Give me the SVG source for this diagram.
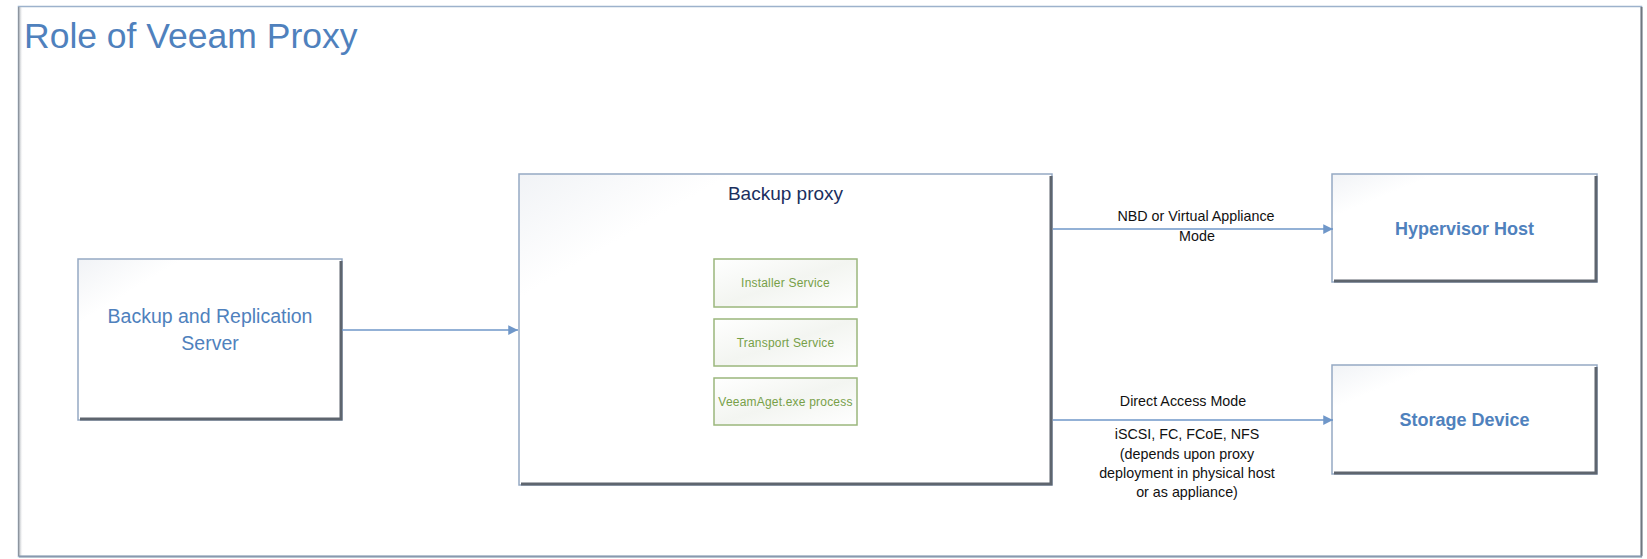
<svg xmlns="http://www.w3.org/2000/svg" width="1647" height="559" viewBox="0 0 1647 559">
<style>
.box{fill:url(#boxfill);stroke:#95A9C3;stroke-width:1.5}
.bevel{fill:none;stroke:#5E656E;stroke-width:3}
.svc{fill:url(#svcfill);stroke:#9BB77C;stroke-width:1.5}
.svct{font-family:"Liberation Sans",Arial,sans-serif;font-size:12px;fill:#77A048;text-anchor:middle;letter-spacing:0.2px}
.node{font-family:"Liberation Sans",Arial,sans-serif;fill:#4F81BD;text-anchor:middle}
.lbl{font-family:"Liberation Sans",Arial,sans-serif;font-size:14.3px;fill:#111;text-anchor:middle}
.conn{stroke:#6F97C9;stroke-width:1.5;fill:none}
</style>
<defs>
<linearGradient id="boxfill" x1="0" y1="0" x2="1" y2="1">
<stop offset="0" stop-color="#F1F3F6"/>
<stop offset="0.2" stop-color="#FFFFFF"/>
<stop offset="1" stop-color="#FFFFFF"/>
</linearGradient>
<linearGradient id="svcfill" x1="0" y1="0" x2="1" y2="1">
<stop offset="0" stop-color="#FFFFFF"/>
<stop offset="0.5" stop-color="#F3F5F1"/>
<stop offset="1" stop-color="#FFFFFF"/>
</linearGradient>
<linearGradient id="leftshade" x1="0" y1="0" x2="1" y2="0">
<stop offset="0" stop-color="#7E858E"/>
<stop offset="1" stop-color="#FFFFFF" stop-opacity="0"/>
</linearGradient>
<marker id="arr" viewBox="0 0 10 10" refX="10" refY="5" markerWidth="6.5" markerHeight="6.5" markerUnits="strokeWidth" orient="auto">
<path d="M0,0 L10,5 L0,10 z" fill="#6F97C9"/>
</marker>
</defs>

<g id="frame">
<rect x="0" y="0" width="1647" height="559" fill="#FFFFFF"/>
<rect x="18.5" y="6.5" width="1623" height="550" fill="#FFFFFF" stroke="#9DB2CC" stroke-width="1.5"/>
<rect x="18" y="7" width="5" height="549" fill="url(#leftshade)"/>
<line x1="1641.5" y1="7" x2="1641.5" y2="556" stroke="#70777F" stroke-width="2"/>
<line x1="19" y1="556.5" x2="1642" y2="556.5" stroke="#8799AE" stroke-width="2"/>
<text x="24" y="48" font-family="'Liberation Sans',Arial,sans-serif" font-size="35.5" fill="#4F81BD">Role of Veeam Proxy</text>
</g>

<g id="backup-server">
<rect class="box" x="78" y="259" width="264" height="161"/>
<path class="bevel" d="M341,261 V419 H80"/>
<text class="node" x="210" y="323" font-size="19.5">Backup and Replication</text>
<text class="node" x="210" y="350" font-size="19.5">Server</text>
</g>

<g id="backup-proxy">
<rect class="box" x="519" y="174" width="533" height="311"/>
<path class="bevel" d="M1051,176 V484 H521"/>
<text x="785.5" y="200" font-family="'Liberation Sans',Arial,sans-serif" font-size="19" fill="#1B2F5E" text-anchor="middle">Backup proxy</text>
</g>

<g id="installer-service">
<rect class="svc" x="714" y="259" width="143" height="48"/>
<text class="svct" x="785.5" y="287">Installer Service</text>
</g>

<g id="transport-service">
<rect class="svc" x="714" y="319" width="143" height="47"/>
<text class="svct" x="785.5" y="347">Transport Service</text>
</g>

<g id="veeamaget-process">
<rect class="svc" x="714" y="378" width="143" height="47"/>
<text class="svct" x="785.5" y="406">VeeamAget.exe process</text>
</g>

<g id="hypervisor-host">
<rect class="box" x="1332" y="174" width="265" height="108"/>
<path class="bevel" d="M1596,176 V281 H1334"/>
<text class="node" x="1464.5" y="235" font-size="18" font-weight="bold">Hypervisor Host</text>
</g>

<g id="storage-device">
<rect class="box" x="1332" y="365" width="265" height="109"/>
<path class="bevel" d="M1596,367 V473 H1334"/>
<text class="node" x="1464.5" y="426" font-size="18" font-weight="bold">Storage Device</text>
</g>

<g id="connectors">
<line class="conn" x1="342" y1="330" x2="518" y2="330" marker-end="url(#arr)"/>
<line class="conn" x1="1053" y1="229" x2="1333" y2="229" marker-end="url(#arr)"/>
<line class="conn" x1="1053" y1="420" x2="1333" y2="420" marker-end="url(#arr)"/>
<text class="lbl" x="1196" y="221">NBD or Virtual Appliance</text>
<text class="lbl" x="1197" y="241">Mode</text>
<text class="lbl" x="1183" y="406">Direct Access Mode</text>
<text class="lbl" x="1187" y="439">iSCSI, FC, FCoE, NFS</text>
<text class="lbl" x="1187" y="459">(depends upon proxy</text>
<text class="lbl" x="1187" y="478">deployment in physical host</text>
<text class="lbl" x="1187" y="497">or as appliance)</text>
</g>
</svg>
